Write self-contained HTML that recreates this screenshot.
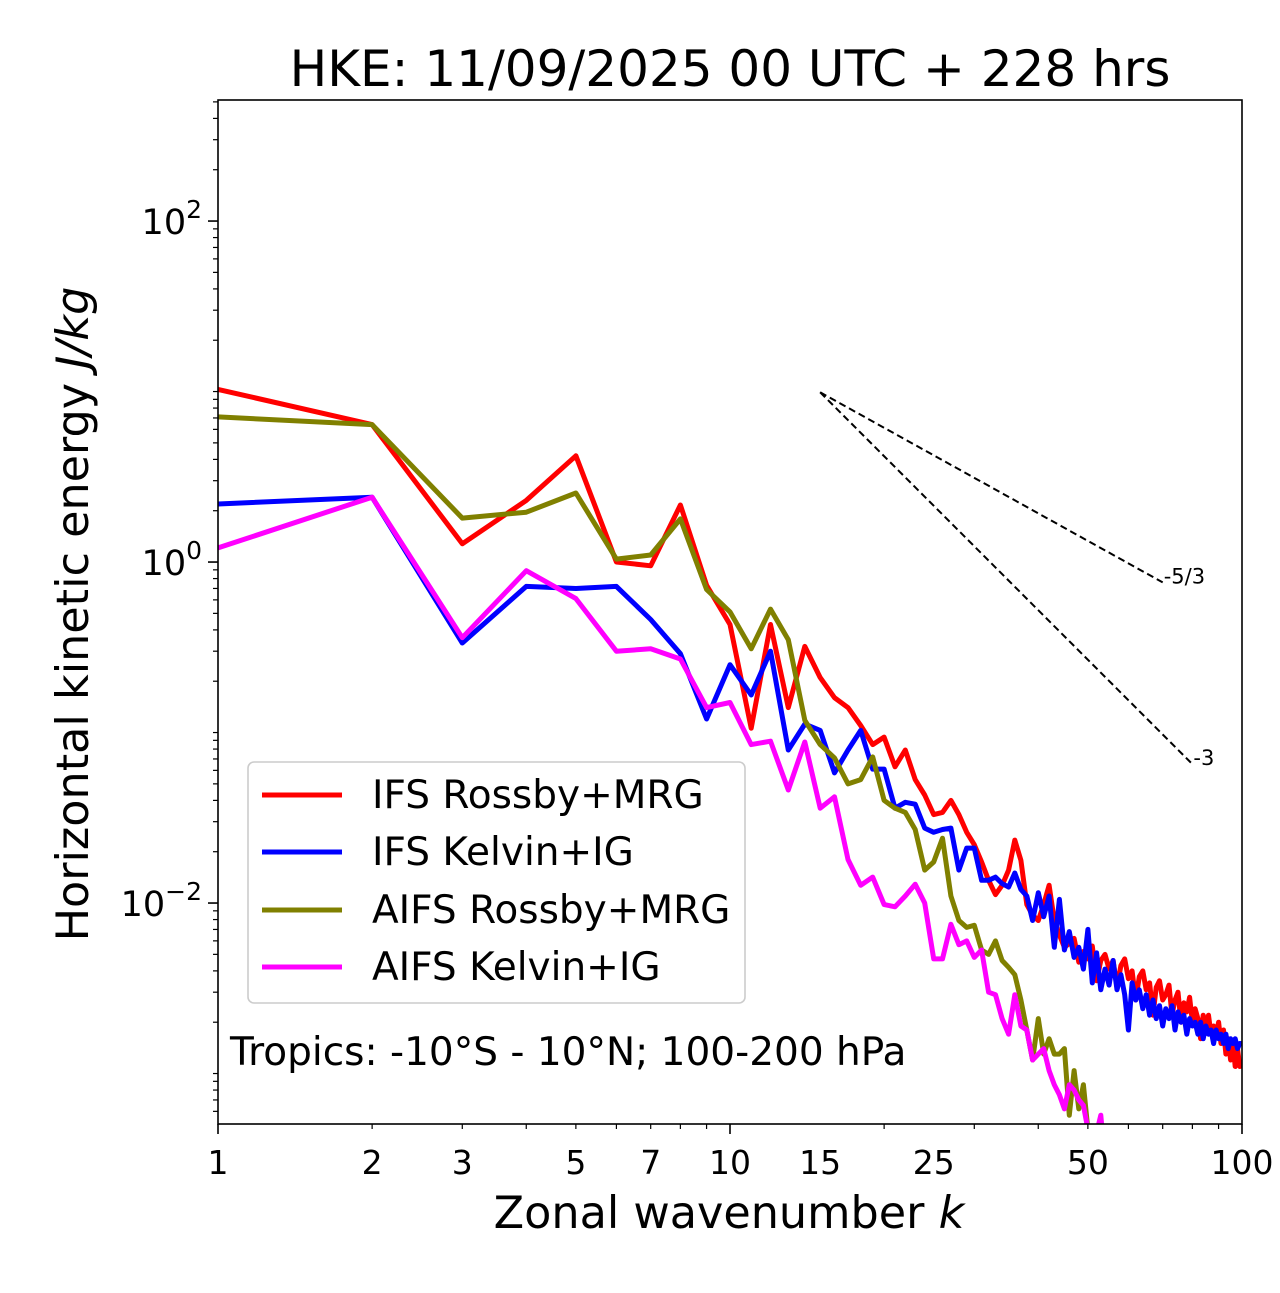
<!DOCTYPE html>
<html><head><meta charset="utf-8"><style>
body{margin:0;background:#fff;}
svg text{font-family:"DejaVu Sans","Liberation Sans",sans-serif;fill:#000;}
</style></head><body>
<svg id="chart" width="1280" height="1288" viewBox="0 0 1280 1288" xmlns="http://www.w3.org/2000/svg">
<text x="730" y="86" font-size="50" text-anchor="middle">HKE: 11/09/2025 00 UTC + 228 hrs</text>
<defs><clipPath id="clip"><rect x="218" y="100" width="1024" height="1024"/></clipPath></defs>
<g id="ticks"></g>
<g id="series" clip-path="url(#clip)"></g>
<rect x="218" y="100" width="1024" height="1024" fill="none" stroke="#000" stroke-width="1.6"/>
<text x="729" y="1228" font-size="44.5" text-anchor="middle">Zonal wavenumber <tspan font-style="italic">k</tspan></text>
<text transform="translate(88,614) rotate(-90)" font-size="44.5" text-anchor="middle">Horizontal kinetic energy <tspan font-style="italic">J/kg</tspan></text>
<g>
<rect x="248" y="762" width="497" height="241" rx="6" fill="#fff" fill-opacity="0.8" stroke="#ccc" stroke-width="1.6"/>
<line x1="262" y1="795" x2="342" y2="795" stroke="#ff0000" stroke-width="5"/>
<text x="372" y="808" font-size="39">IFS Rossby+MRG</text>
<line x1="262" y1="852" x2="342" y2="852" stroke="#0000ff" stroke-width="5"/>
<text x="372" y="865" font-size="39">IFS Kelvin+IG</text>
<line x1="262" y1="910" x2="342" y2="910" stroke="#808000" stroke-width="5"/>
<text x="372" y="923" font-size="39">AIFS Rossby+MRG</text>
<line x1="262" y1="967" x2="342" y2="967" stroke="#ff00ff" stroke-width="5"/>
<text x="372" y="980" font-size="39">AIFS Kelvin+IG</text>
</g>
<text x="230" y="1065" font-size="39">Tropics: -10°S - 10°N; 100-200 hPa</text>
</svg>
<script>
const ifsRossby=[10.3,6.4,1.28,2.3,4.2,1.0,0.95,2.16,0.73,0.43,0.106,0.43,0.14,0.32,0.21,0.16,0.14,0.11,0.085,0.094,0.063,0.079,0.053,0.043,0.033,0.034,0.040,0.033,0.026,0.022,0.0174,0.0136,0.0112,0.0127,0.0156,0.0234,0.0178,0.0098,0.0085,0.0079,0.0098,0.0127,0.0079,0.0065,0.0055,0.0058,0.0062,0.0045,0.0052,0.0047,0.0056,0.0035,0.0046,0.0050,0.0041,0.0046,0.0032,0.0043,0.0047,0.0036,0.0040,0.0027,0.0037,0.0040,0.0031,0.0034,0.0022,0.0032,0.0035,0.0027,0.0029,0.0033,0.0022,0.0027,0.0030,0.0020,0.0026,0.0023,0.0028,0.0020,0.0024,0.0021,0.0016,0.0022,0.0019,0.0022,0.0017,0.0019,0.0017,0.0020,0.0015,0.0018,0.0013,0.0016,0.0012,0.0015,0.0011,0.0014,0.0011,0.0012];
const ifsKelvin=[2.19,2.4,0.335,0.72,0.70,0.72,0.46,0.29,0.12,0.25,0.166,0.30,0.079,0.112,0.103,0.058,0.079,0.103,0.061,0.061,0.036,0.039,0.038,0.0275,0.026,0.027,0.0275,0.0156,0.021,0.021,0.0136,0.0136,0.0142,0.013,0.0124,0.015,0.012,0.011,0.0079,0.0115,0.0083,0.011,0.0055,0.0105,0.0053,0.0068,0.0048,0.0055,0.0041,0.007,0.0034,0.0051,0.0031,0.0041,0.0033,0.0046,0.0031,0.0038,0.0029,0.0018,0.0034,0.0027,0.0031,0.0024,0.0029,0.0022,0.0027,0.0021,0.0025,0.0019,0.0024,0.0021,0.0025,0.0018,0.0023,0.0020,0.0022,0.0017,0.0021,0.0019,0.0020,0.0017,0.0020,0.0016,0.0019,0.0017,0.0018,0.0015,0.0018,0.0016,0.0017,0.0015,0.0017,0.0014,0.0016,0.0015,0.0016,0.0014,0.0015,0.0015];
const aifsRossby=[7.1,6.4,1.81,1.96,2.54,1.04,1.1,1.79,0.69,0.51,0.31,0.53,0.35,0.118,0.085,0.071,0.05,0.053,0.072,0.040,0.036,0.034,0.027,0.0156,0.0174,0.024,0.011,0.0079,0.0072,0.0074,0.0053,0.0050,0.0060,0.0046,0.0042,0.0038,0.0027,0.0018,0.0012,0.0021,0.0013,0.0016,0.0013,0.0013,0.0014,0.00057,0.00104,0.00062,0.00086,0.00047,0.0003];
const aifsKelvin=[1.21,2.4,0.36,0.89,0.61,0.30,0.31,0.27,0.14,0.15,0.085,0.089,0.046,0.088,0.036,0.042,0.018,0.0127,0.0142,0.0098,0.0095,0.011,0.0129,0.010,0.0047,0.0047,0.0075,0.0057,0.006,0.0048,0.0053,0.003,0.0029,0.0021,0.0017,0.0029,0.0019,0.0018,0.0012,0.0013,0.0014,0.00104,0.00086,0.00075,0.00062,0.00086,0.0008,0.0007,0.00065,0.00047,0.0003,0.00045,0.00057,0.0003];
const xTickLabels=[1,2,3,5,7,10,15,25,50,100];
const yTickExps=[-2,0,2];
const slopes=[-5/3,-3];
const slopeLabels=['-5/3','-3'];
const slopeEnds=[70,80];
const slopeStartK=15, slopeStartE=9.9;

const NS='http://www.w3.org/2000/svg';
const X0=218,X1=1242,Y0=100,Y1=1124;
const lxMin=0,lxMax=2,lyMin=-3.296,lyMax=2.71;
const xs=k=>X0+(Math.log10(k)-lxMin)/(lxMax-lxMin)*(X1-X0);
const ys=v=>Y1-(Math.log10(v)-lyMin)/(lyMax-lyMin)*(Y1-Y0);
function mk(tag,attrs,parent){const e=document.createElementNS(NS,tag);for(const a in attrs)e.setAttribute(a,attrs[a]);parent.appendChild(e);return e;}
const tg=document.getElementById('ticks');
const sg=document.getElementById('series');
for(let d=0;d<2;d++)for(let m=1;m<10;m++){const k=m*Math.pow(10,d);const x=xs(k);
 const t=mk('line',{x1:x,x2:x,y1:Y1,y2:Y1+(m===1?10:5),stroke:'#000','stroke-width':m===1?1.6:1.2},tg);
 
 }
{const t=mk('line',{x1:X1,x2:X1,y1:Y1,y2:Y1+10,stroke:'#000','stroke-width':1.6},tg);
 
 }
xTickLabels.forEach(k=>{const t=mk('text',{x:xs(k),y:Y1+50,'font-size':33,'text-anchor':'middle'},tg);t.textContent=k;
 
 });
for(let d=-4;d<=2;d++)for(let m=1;m<10;m++){const v=m*Math.pow(10,d);const y=ys(v);if(y<Y0||y>Y1)continue;
 const major=(m===1&&d%2===0);
 const t=mk('line',{x1:X0,x2:X0-(major?10:5),y1:y,y2:y,stroke:'#000','stroke-width':major?1.6:1.2},tg);
 
 }
yTickExps.forEach(e=>{const t=mk('text',{x:X0-16,y:ys(Math.pow(10,e))+13,'font-size':35,'text-anchor':'end'},tg);
 t.innerHTML='10<tspan dy="-16" font-size="25">'+(e<0?'\u2212'+(-e):e)+'</tspan>';
 
 });
const series=[['ifs-rossby-line',ifsRossby,'#ff0000'],['ifs-kelvin-line',ifsKelvin,'#0000ff'],['aifs-rossby-line',aifsRossby,'#808000'],['aifs-kelvin-line',aifsKelvin,'#ff00ff']];
series.forEach(([n,arr,c])=>{const pts=arr.map((v,i)=>xs(i+1).toFixed(1)+','+ys(v).toFixed(1)).join(' ');
 const p=mk('polyline',{points:pts,fill:'none',stroke:c,'stroke-width':5,'stroke-linejoin':'round'},sg);
 
 });
slopes.forEach((s,i)=>{const k2=slopeEnds[i];const e2=slopeStartE*Math.pow(k2/slopeStartK,s);
 const l=mk('line',{x1:xs(slopeStartK),y1:ys(slopeStartE),x2:xs(k2),y2:ys(e2),stroke:'#000','stroke-width':2,'stroke-dasharray':'7,4'},sg);
 
 
 const t=mk('text',{x:xs(k2)+1,y:ys(e2)+1,'font-size':21},tg);t.textContent=slopeLabels[i];
 
 });
</script>
</body></html>
